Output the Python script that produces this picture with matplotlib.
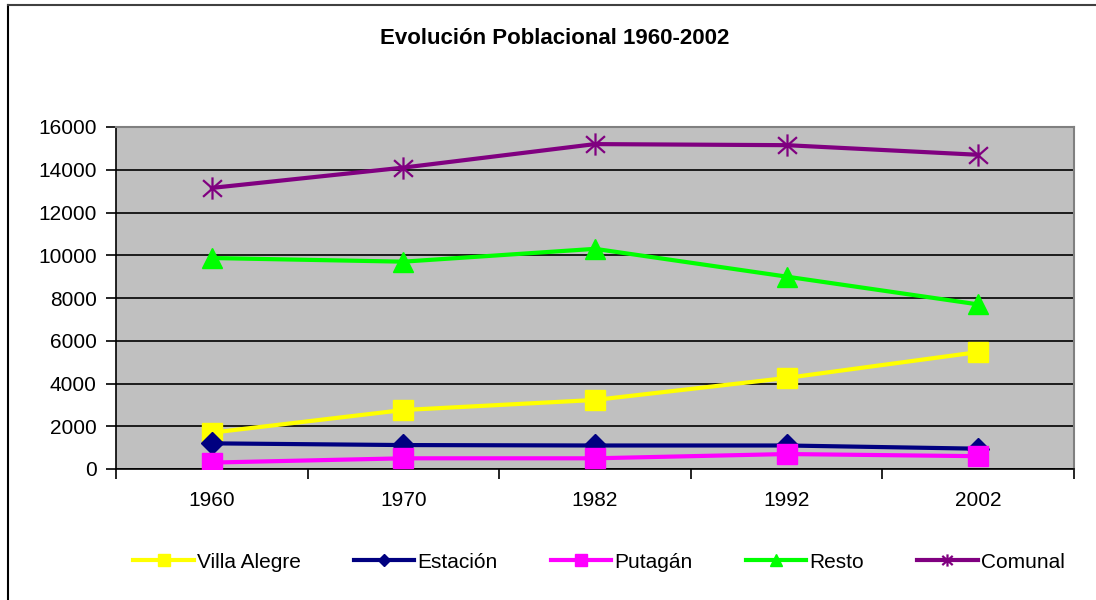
import matplotlib
matplotlib.use("Agg")
import matplotlib.pyplot as plt
from matplotlib.path import Path
from matplotlib.lines import Line2D

plt.rcParams['font.family'] = ['Liberation Sans', 'DejaVu Sans']

years = ["1960", "1970", "1982", "1992", "2002"]
villa_alegre = [1700, 2760, 3230, 4260, 5470]
estacion = [1200, 1120, 1100, 1100, 950]
putagan = [300, 500, 500, 700, 600]
resto = [9870, 9700, 10300, 9000, 7700]
comunal = [13150, 14100, 15200, 15150, 14700]
yticks = [0, 2000, 4000, 6000, 8000, 10000, 12000, 14000, 16000]

star = Path([(0, -1), (0, 1), (-0.85, -0.75), (0.85, 0.75), (-0.85, 0.75), (0.85, -0.75)],
            [Path.MOVETO, Path.LINETO, Path.MOVETO, Path.LINETO, Path.MOVETO, Path.LINETO])

fig = plt.figure(figsize=(10.96, 6), dpi=100)
ax = fig.add_axes([116/1096, 131/600, (1074-116)/1096, (469-127)/600])
ax.set_facecolor('#C0C0C0')

x = list(range(len(years)))
lw = 3
series = [
    ("Villa Alegre", villa_alegre, '#FFFF00', 's', 15, 1),
    ("Estación", estacion, '#000080', 'D', 11, 1),
    ("Putagán", putagan, '#FF00FF', 's', 15, 1),
    ("Resto", resto, '#00FF00', '^', 15, 1),
    ("Comunal", comunal, '#800080', star, 16, 1.6),
]
for name, vals, col, mk, ms, mew in series:
    ax.plot(x, vals, color=col, lw=lw, marker=mk, markersize=ms,
            markerfacecolor=col, markeredgecolor=col, markeredgewidth=mew,
            label=name, zorder=3)

fs = 15
ax.set_xlim(-0.5, 4.5)
ax.set_ylim(0, 16000)
ax.set_yticks(yticks)
ax.set_yticklabels([str(v) for v in yticks])
ax.yaxis.grid(True, color='black', lw=1.2)
ax.set_axisbelow(True)
ax.set_xticks(x)
ax.set_xticklabels(years)
ax.set_xticks([-0.5, 0.5, 1.5, 2.5, 3.5, 4.5], minor=True)
ax.tick_params(axis='x', which='major', length=0, pad=16, labelsize=fs)
ax.tick_params(axis='x', which='minor', length=7, width=1.2, direction='out', color='black')
ax.tick_params(axis='y', length=7, width=1.2, pad=7, labelsize=fs, colors='black')
for s in ['left', 'bottom']:
    ax.spines[s].set_color('black')
    ax.spines[s].set_linewidth(1.2)
for s in ['top', 'right']:
    ax.spines[s].set_color('#808080')
    ax.spines[s].set_linewidth(1.5)

fig.text(555/1096, 1 - 38/600, "Evolución Poblacional 1960-2002", ha='center', va='center',
         fontsize=16, fontweight='bold')

leg = fig.legend(loc='center', bbox_to_anchor=(599/1096, 1 - 562/600), ncol=5, frameon=False,
                 fontsize=fs, markerscale=0.55, handlelength=2.9, handletextpad=0.15,
                 columnspacing=2.55)

fig.add_artist(Line2D([8/1096, 8/1096], [0, 1 - 5/600], transform=fig.transFigure, color='black', lw=1.5))
fig.add_artist(Line2D([8/1096, 1], [1 - 5/600, 1 - 5/600], transform=fig.transFigure, color='#404040', lw=1.5))

fig.savefig("out.png", dpi=100)
